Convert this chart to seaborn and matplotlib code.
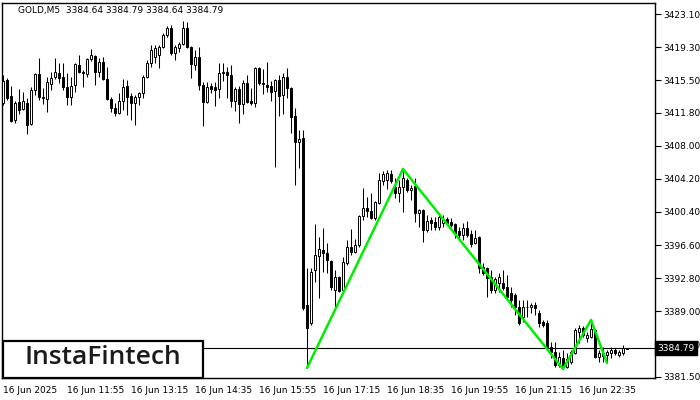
import numpy as np
import pandas as pd
import matplotlib
matplotlib.use("Agg")
import matplotlib.pyplot as plt
import matplotlib.transforms as mtransforms
from matplotlib.patches import Rectangle
import seaborn as sns

symbol_header = "GOLD,M5  3384.64 3384.79 3384.64 3384.79"
last_price = 3384.79
logo_text = "InstaFintech"

opens = [3412.90, 3415.53, 3413.70, 3410.95, 3413.01, 3412.21, 3412.90, 3410.49, 3414.39, 3416.22,
         3413.58, 3413.35, 3415.08, 3415.88, 3416.34, 3415.88, 3414.73, 3413.58, 3414.96, 3417.25,
         3416.45, 3416.22, 3417.94, 3418.29, 3416.45, 3417.60, 3415.65, 3413.35, 3412.32, 3411.75,
         3413.13, 3414.85, 3413.70, 3412.90, 3413.58, 3414.04, 3415.88, 3417.48, 3418.17, 3418.40,
         3419.32, 3420.70, 3421.50, 3418.63, 3419.20, 3419.66, 3421.50, 3419.32, 3417.25, 3418.17,
         3414.96, 3413.01, 3414.85, 3414.73, 3414.50, 3416.34, 3416.45, 3416.11, 3413.13, 3414.50,
         3412.78, 3415.19, 3413.13, 3412.90, 3416.91, 3415.19, 3414.96, 3414.85, 3414.27, 3415.53,
         3413.81, 3415.88, 3414.62, 3411.40, 3408.42, 3408.88, 3389.73, 3387.66, 3393.74, 3395.35,
         3396.03, 3395.69, 3394.77, 3391.45, 3392.94, 3391.45, 3394.54, 3396.38, 3395.81, 3396.61,
         3399.93, 3400.85, 3400.51, 3399.71, 3401.43, 3403.95, 3404.06, 3404.75, 3403.26, 3402.57,
         3403.26, 3404.06, 3402.92, 3403.38, 3400.28, 3400.62, 3398.33, 3399.48, 3399.25, 3398.67,
         3399.13, 3399.59, 3399.25, 3399.02, 3398.21, 3397.76, 3398.56, 3397.87, 3396.84, 3397.53,
         3394.09, 3393.97, 3392.94, 3391.45, 3392.25, 3392.25, 3391.79, 3391.10, 3390.87, 3389.50,
         3388.35, 3389.50, 3389.50, 3389.73, 3388.81, 3387.78, 3387.66, 3384.91, 3384.34, 3382.84,
         3383.65, 3382.62, 3383.19, 3384.22, 3386.63, 3387.09, 3385.94, 3386.06, 3386.86, 3383.76,
         3384.22, 3383.99, 3384.22, 3384.56, 3383.99, 3384.22, 3384.64]

highs = [3416.11, 3415.76, 3414.85, 3413.13, 3414.50, 3414.16, 3413.47, 3414.73, 3416.34, 3418.06,
         3414.62, 3415.88, 3416.45, 3418.06, 3417.48, 3417.48, 3416.34, 3415.88, 3417.48, 3418.40,
         3416.68, 3418.06, 3419.09, 3418.40, 3418.06, 3418.17, 3417.03, 3413.58, 3412.90, 3414.04,
         3415.65, 3415.53, 3414.04, 3413.81, 3414.16, 3416.11, 3417.83, 3419.55, 3419.55, 3419.55,
         3420.92, 3421.73, 3421.84, 3419.55, 3419.89, 3422.30, 3422.19, 3419.43, 3418.97, 3419.32,
         3415.30, 3415.30, 3415.19, 3415.30, 3417.48, 3417.48, 3417.03, 3417.25, 3414.73, 3414.85,
         3415.53, 3416.11, 3414.62, 3417.03, 3417.03, 3416.80, 3417.60, 3415.42, 3415.65, 3416.11,
         3416.34, 3416.91, 3414.70, 3412.32, 3409.80, 3409.80, 3393.97, 3393.97, 3399.02, 3397.53,
         3398.56, 3396.84, 3394.89, 3393.74, 3393.00, 3395.23, 3397.18, 3398.44, 3397.30, 3400.05,
         3403.15, 3402.11, 3402.57, 3401.60, 3404.87, 3405.10, 3405.21, 3405.21, 3404.29, 3404.06,
         3405.33, 3404.29, 3403.49, 3404.29, 3400.70, 3400.70, 3400.05, 3399.82, 3399.82, 3400.05,
         3400.05, 3399.82, 3399.71, 3399.13, 3398.67, 3399.13, 3399.36, 3398.33, 3398.33, 3397.60,
         3394.54, 3394.05, 3393.74, 3392.94, 3393.40, 3393.74, 3393.17, 3391.79, 3391.10, 3390.30,
         3390.30, 3390.30, 3389.96, 3390.07, 3389.15, 3388.01, 3388.01, 3385.48, 3385.48, 3384.34,
         3384.56, 3384.22, 3384.56, 3387.09, 3387.43, 3387.32, 3386.63, 3388.01, 3386.95, 3384.56,
         3384.91, 3384.56, 3384.91, 3384.79, 3384.56, 3385.14, 3384.79]

lows = [3412.67, 3413.24, 3410.72, 3410.60, 3411.63, 3412.09, 3409.34, 3410.37, 3413.81, 3413.24,
        3412.78, 3411.86, 3414.39, 3415.65, 3415.19, 3414.39, 3412.67, 3412.67, 3414.16, 3416.34,
        3414.73, 3415.88, 3417.71, 3414.96, 3415.88, 3415.53, 3413.24, 3411.86, 3411.40, 3411.63,
        3412.09, 3411.52, 3410.95, 3410.37, 3412.67, 3413.47, 3415.76, 3417.03, 3417.48, 3416.91,
        3419.20, 3420.47, 3418.40, 3417.83, 3418.75, 3419.55, 3419.25, 3415.76, 3416.68, 3414.39,
        3410.26, 3412.90, 3414.04, 3412.55, 3413.47, 3415.42, 3413.47, 3412.44, 3411.98, 3410.60,
        3411.63, 3412.90, 3412.67, 3412.44, 3414.96, 3413.93, 3414.16, 3413.13, 3405.56, 3411.40,
        3411.63, 3413.47, 3409.45, 3403.49, 3405.44, 3389.15, 3382.50, 3387.43, 3392.36, 3390.53,
        3393.51, 3393.40, 3391.45, 3389.38, 3391.22, 3391.10, 3394.31, 3395.46, 3395.69, 3396.38,
        3399.48, 3399.82, 3399.60, 3399.48, 3401.35, 3403.49, 3403.03, 3403.72, 3402.00, 3401.54,
        3400.39, 3402.69, 3401.77, 3399.25, 3398.67, 3396.95, 3398.10, 3398.33, 3398.33, 3398.33,
        3398.67, 3398.90, 3398.67, 3397.41, 3397.18, 3397.18, 3397.53, 3396.38, 3396.75, 3393.40,
        3393.17, 3390.64, 3391.10, 3391.10, 3391.22, 3391.45, 3390.53, 3389.50, 3388.58, 3387.43,
        3387.78, 3388.35, 3388.81, 3388.58, 3387.20, 3387.20, 3384.56, 3383.65, 3382.62, 3382.62,
        3382.39, 3382.50, 3382.96, 3384.11, 3385.37, 3386.06, 3385.48, 3385.94, 3383.65, 3383.19,
        3383.19, 3383.07, 3383.65, 3383.99, 3383.76, 3383.99, 3384.64]

closes = [3415.42, 3413.47, 3410.83, 3412.90, 3412.09, 3413.13, 3410.37, 3414.39, 3416.22, 3413.58,
          3413.52, 3415.30, 3415.76, 3416.45, 3415.76, 3414.73, 3413.58, 3414.85, 3417.37, 3416.45,
          3416.34, 3417.94, 3418.40, 3416.45, 3417.60, 3415.65, 3413.35, 3412.32, 3411.75, 3413.13,
          3414.73, 3413.58, 3412.90, 3413.58, 3414.04, 3415.88, 3417.48, 3418.97, 3419.20, 3419.32,
          3420.70, 3421.50, 3418.63, 3419.32, 3419.66, 3421.50, 3419.32, 3417.37, 3418.17, 3414.96,
          3413.01, 3414.73, 3414.50, 3414.39, 3416.34, 3416.45, 3416.11, 3413.13, 3414.50, 3412.78,
          3415.19, 3413.01, 3412.90, 3416.91, 3415.19, 3415.08, 3414.73, 3414.16, 3415.53, 3413.70,
          3415.88, 3414.62, 3411.29, 3408.42, 3408.77, 3389.38, 3387.09, 3393.51, 3395.46, 3396.15,
          3395.69, 3394.89, 3391.79, 3392.94, 3391.33, 3394.66, 3396.38, 3395.81, 3396.61, 3399.93,
          3400.85, 3400.51, 3399.71, 3401.54, 3404.06, 3404.75, 3404.87, 3403.95, 3402.57, 3403.26,
          3404.29, 3402.92, 3403.15, 3400.28, 3400.62, 3398.33, 3399.36, 3399.13, 3398.67, 3399.82,
          3399.59, 3399.13, 3398.90, 3397.87, 3397.76, 3398.56, 3397.76, 3396.72, 3397.41, 3393.97,
          3393.40, 3392.82, 3391.45, 3392.71, 3392.94, 3391.68, 3390.64, 3390.30, 3389.50, 3387.66,
          3389.50, 3389.45, 3389.73, 3389.38, 3387.66, 3387.43, 3384.91, 3384.34, 3382.84, 3383.76,
          3382.62, 3383.53, 3384.34, 3386.86, 3387.09, 3386.29, 3386.29, 3386.97, 3383.76, 3384.22,
          3383.88, 3384.34, 3384.56, 3384.22, 3384.34, 3384.79, 3384.79]

time_labels = ["16 Jun 2025", "16 Jun 11:55", "16 Jun 13:15", "16 Jun 14:35", "16 Jun 15:55",
               "16 Jun 17:15", "16 Jun 18:35", "16 Jun 19:55", "16 Jun 21:15", "16 Jun 22:35"]
label_bars = [0, 16, 32, 48, 64, 80, 96, 112, 128, 144]

price_ticks = [3381.50, 3385.20, 3389.00, 3392.80, 3396.60, 3400.40,
               3404.20, 3408.00, 3411.80, 3415.50, 3419.30, 3423.10]

pattern_bars = [76, 100, 140, 147, 151]
pattern_prices = [3382.50, 3405.33, 3382.39, 3388.01, 3383.07]

df = pd.DataFrame({"o": opens, "h": highs, "l": lows, "c": closes})
df["i"] = np.arange(len(df))

sns.set_style("white")
plt.rcParams["font.family"] = ["DejaVu Sans"]

fig = plt.figure(figsize=(7, 4), dpi=100)
fig.patch.set_facecolor("white")
ax = fig.add_axes([2 / 700, 22 / 400, 653 / 700, 375 / 400])

ax.vlines(df["i"], df["l"], df["h"], color="black", linewidth=0.75, zorder=2)
bull = df["c"] >= df["o"]
bottoms = np.minimum(df["o"], df["c"])
heights = np.maximum(np.abs(df["c"] - df["o"]), 0.05)
ax.bar(df["i"], heights, bottom=bottoms, width=0.62,
       color=np.where(bull, "white", "black"), edgecolor="black", linewidth=0.7, zorder=3)

ax.axhline(last_price, color="black", linewidth=0.8, zorder=1)

sns.lineplot(x=pattern_bars, y=pattern_prices, color="#00ee00", linewidth=1.8, ax=ax, zorder=4)

ax.set_xlim(-0.25, 163)
ax.set_ylim(3381.35, 3424.37)

ax.yaxis.tick_right()
ax.set_yticks(price_ticks)
ax.set_yticklabels([f"{v:.2f}" for v in price_ticks])
ax.set_xticks(label_bars)
ax.set_xticklabels(time_labels)
for lab in ax.get_xticklabels():
    lab.set_horizontalalignment("left")
ax.tick_params(axis="both", direction="out", length=4, width=0.8, labelsize=6.5, pad=2, colors="black")
ax.set_xlabel("")
ax.set_ylabel("")
for s in ax.spines.values():
    s.set_visible(True)
    s.set_color("black")
    s.set_linewidth(1.0)

trans = mtransforms.blended_transform_factory(ax.transAxes, ax.transData)
ax.text(1.004, last_price, f"{last_price:.2f}", transform=trans, ha="left", va="center",
        color="white", fontsize=6.5, zorder=10, clip_on=False,
        bbox=dict(facecolor="black", edgecolor="black", boxstyle="square,pad=0.25"))

fig.text(18 / 700, 1 - 11 / 400, symbol_header, fontsize=6.5, va="center", ha="left", color="black")

logo = Rectangle((3 / 700, 22 / 400), 200 / 700, 37 / 400, transform=fig.transFigure,
                 facecolor="white", edgecolor="black", linewidth=1.6, zorder=20)
fig.patches.append(logo)
fig.text(103 / 700, 1 - 358 / 400, logo_text, ha="center", va="center", fontsize=19,
         family="Open Sans", weight="semibold", color="#1a1a1a", zorder=21)

fig.savefig("out.png", dpi=100)
